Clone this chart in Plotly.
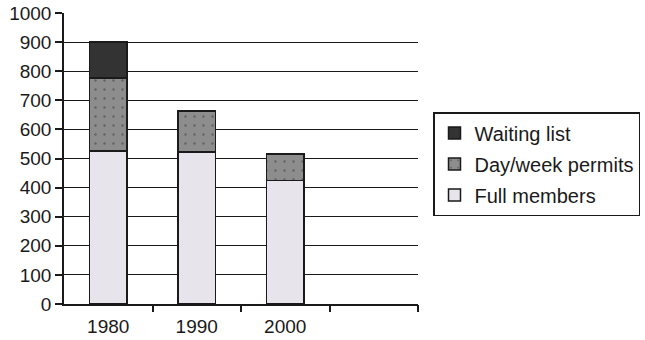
import plotly.graph_objects as go

years = ["1980", "1990", "2000"]
full_members = [526, 522, 424]
day_week_permits = [251, 142, 91]
waiting_list = [123, 0, 0]

xpos = list(range(len(years)))
font = "Liberation Sans, Arial, sans-serif"

fig = go.Figure()
fig.add_trace(go.Bar(
    x=xpos, y=full_members, name="Full members", width=0.42, legendgroup="c",
    legendrank=3,
    marker=dict(color="#e7e4ec", line=dict(color="#1a1a1a", width=1.5)),
))
fig.add_trace(go.Bar(
    x=xpos, y=day_week_permits, name="Day/week permits", width=0.42, legendgroup="b",
    legendrank=2,
    marker=dict(color="#8d8d8d", line=dict(color="#1a1a1a", width=1.5),
                pattern=dict(shape=".", fgcolor="#3a3a3a", size=9, solidity=0.06)),
))
fig.add_trace(go.Bar(
    x=xpos, y=waiting_list, name="Waiting list", width=0.42, legendgroup="a",
    legendrank=1,
    marker=dict(color="#333333", line=dict(color="#1a1a1a", width=1.5)),
))
# invisible trace to carry the category-boundary tick marks
fig.add_trace(go.Scatter(x=[None], y=[None], xaxis="x2", showlegend=False, hoverinfo="skip"))

fig.update_layout(
    barmode="stack",
    width=645, height=340,
    margin=dict(l=64, r=227, t=13, b=36, autoexpand=False),
    paper_bgcolor="white", plot_bgcolor="white",
    font=dict(family=font, size=19, color="#1a1a1a"),
    xaxis=dict(
        range=[-0.5, 3.5], tickvals=xpos, ticktext=years, ticks="",
        showgrid=False, showline=True, linecolor="#1a1a1a", linewidth=1.5,
        zeroline=False, tickfont=dict(size=19), automargin=False,
        ticklabelstandoff=4,
    ),
    xaxis2=dict(
        range=[-0.5, 3.5], overlaying="x", side="bottom",
        tickvals=[0.5, 1.5, 2.5, 3.5], ticks="outside", ticklen=7, tickwidth=1.5,
        tickcolor="#1a1a1a", showticklabels=False, showgrid=False, showline=False,
        zeroline=False, automargin=False,
    ),
    yaxis=dict(
        range=[0, 1000], dtick=100, ticks="outside", ticklen=7, tickwidth=1.5,
        tickcolor="#1a1a1a", showline=True, linecolor="#1a1a1a", linewidth=1.5,
        showgrid=True, gridcolor="#1a1a1a", gridwidth=1.2, zeroline=False,
        tickfont=dict(size=19), automargin=False, ticklabeloverflow="allow",
    ),
    legend=dict(
        x=433/645, y=(340-112)/340, xref="container", yref="container",
        xanchor="left", yanchor="top",
        bordercolor="#1a1a1a", borderwidth=1.5, bgcolor="white",
        font=dict(size=20), traceorder="grouped", tracegroupgap=2,
        itemwidth=30,
    ),
)

fig.write_html("out.html", config={"displayModeBar": False},
               post_script="document.body.style.margin='0';")
